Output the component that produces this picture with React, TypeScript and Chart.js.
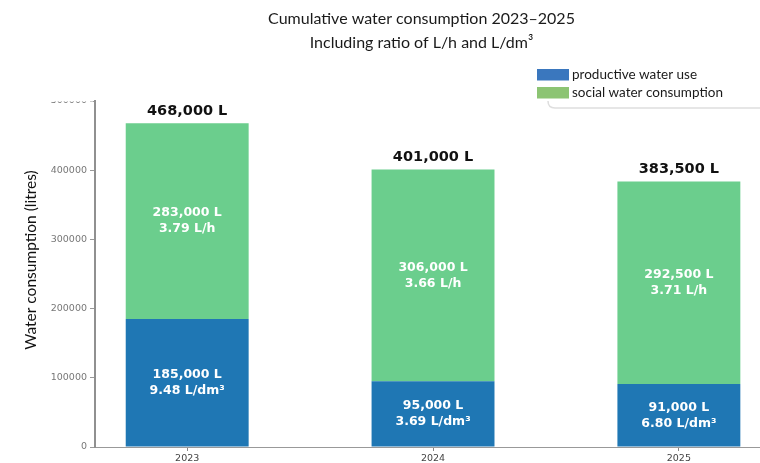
import React, { useEffect, useRef } from "react";
import { Chart, registerables } from "chart.js";

Chart.register(...registerables);

const categories = ["2023", "2024", "2025"];
const productive = [185000, 95000, 91000];
const social = [283000, 306000, 292500];
const productiveRatio = ["9.48 L/dm³", "3.69 L/dm³", "6.80 L/dm³"];
const socialRatio = ["3.79 L/h", "3.66 L/h", "3.71 L/h"];
const yTicks = [0, 100000, 200000, 300000, 400000, 500000];
const seriesNames = ["productive water use", "social water consumption"];
const barColors = ["#1f77b4", "#6bce8d"];
const legendColors = ["#3a77be", "#8cc473"];
const titleLines = ["Cumulative water consumption 2023–2025", "Including ratio of L/h and L/dm³"];
const yTitle = "Water consumption (litres)";

const fmt = (v: number) => v.toLocaleString("en-US") + " L";

const overlayPlugin = {
  id: "overlay",
  afterDatasetsDraw(chart: any) {
    const ctx = chart.ctx;
    const m0 = chart.getDatasetMeta(0);
    const m1 = chart.getDatasetMeta(1);
    ctx.save();
    ctx.textAlign = "center";
    ctx.textBaseline = "middle";
    categories.forEach((_, i) => {
      const b0 = m0.data[i];
      const b1 = m1.data[i];
      ctx.fillStyle = "#ffffff";
      ctx.font = "bold 12.5px 'DejaVu Sans'";
      const c0 = (b0.y + b0.base) / 2;
      ctx.fillText(fmt(productive[i]), b0.x, c0 - 8);
      ctx.fillText(productiveRatio[i], b0.x, c0 + 8);
      const c1 = (b1.y + b1.base) / 2;
      ctx.fillText(fmt(social[i]), b1.x, c1 - 8);
      ctx.fillText(socialRatio[i], b1.x, c1 + 8);
      ctx.fillStyle = "#111111";
      ctx.font = "bold 14.5px 'DejaVu Sans'";
      ctx.fillText(fmt(productive[i] + social[i]), b1.x, b1.y - 12);
    });
    ctx.restore();
  },
  afterDraw(chart: any) {
    const ctx = chart.ctx;
    const ca = chart.chartArea;
    ctx.save();
    // top of the y axis is cut off in the reference
    ctx.fillStyle = "#ffffff";
    ctx.fillRect(0, 0, ca.left - 2, ca.top + 0.5);

    // title
    ctx.fillStyle = "#1a1a1a";
    ctx.textAlign = "center";
    ctx.textBaseline = "middle";
    ctx.font = "16px Lato";
    ctx.fillText(titleLines[0], 421.5, 18.5);
    ctx.fillText(titleLines[1], 421.5, 43);

    // y title
    ctx.save();
    ctx.translate(31, 260);
    ctx.rotate(-Math.PI / 2);
    ctx.font = "15.5px Lato";
    ctx.fillStyle = "#111111";
    ctx.fillText(yTitle, 0, 0);
    ctx.restore();

    // legend frame (partially visible)
    ctx.strokeStyle = "#dedede";
    ctx.lineWidth = 1.5;
    ctx.beginPath();
    ctx.moveTo(548, 101);
    ctx.quadraticCurveTo(548, 108, 555, 108);
    ctx.lineTo(760, 108);
    ctx.stroke();

    // legend
    ctx.textAlign = "left";
    ctx.font = "13.5px Lato";
    seriesNames.forEach((name, i) => {
      const y = 69 + i * 18;
      ctx.fillStyle = legendColors[i];
      ctx.fillRect(537, y, 32, 11.5);
      ctx.fillStyle = "#1a1a1a";
      ctx.fillText(name, 572, y + 5.5);
    });
    ctx.restore();
  },
};

export default function App() {
  const ref = useRef<HTMLCanvasElement | null>(null);
  useEffect(() => {
    if (!ref.current) return;
    const chart = new Chart(ref.current, {
      type: "bar",
      data: {
        datasets: [
          {
            label: seriesNames[0],
            data: productive.map((v, i) => ({ x: i, y: v })),
            backgroundColor: barColors[0],
            barPercentage: 0.5,
            categoryPercentage: 1,
          },
          {
            label: seriesNames[1],
            data: social.map((v, i) => ({ x: i, y: v })),
            backgroundColor: barColors[1],
            barPercentage: 0.5,
            categoryPercentage: 1,
          },
        ],
      },
      options: {
        responsive: false,
        animation: false,
        layout: { padding: { top: 101, right: 0, left: 0, bottom: 0 } },
        plugins: {
          legend: { display: false },
          title: { display: false },
          tooltip: { enabled: false },
        },
        scales: {
          x: {
            type: "linear",
            stacked: true,
            offset: false,
            min: -0.375,
            max: 2.33,
            afterBuildTicks: (s: any) => {
              s.ticks = categories.map((_, i) => ({ value: i }));
            },
            afterFit: (s: any) => {
              s.height = 16;
            },
            ticks: {
              callback: (v: any) => categories[v] ?? "",
              font: { family: "'DejaVu Sans'", size: 9.5 },
              color: "#444444",
              padding: 2,
              maxRotation: 0,
            },
            grid: { offset: false, drawOnChartArea: false, tickLength: 4, color: "#888888" },
            border: { display: true, color: "#999999", width: 1 },
          },
          y: {
            stacked: true,
            min: 0,
            max: 500000,
            afterBuildTicks: (s: any) => {
              s.ticks = yTicks.map((v) => ({ value: v }));
            },
            afterFit: (s: any) => {
              s.width = 95;
            },
            ticks: {
              callback: (v: any) => String(v),
              font: { family: "'DejaVu Sans'", size: 9.5 },
              color: "#777777",
              padding: 3,
            },
            grid: { drawOnChartArea: false, tickLength: 5, color: "#999999" },
            border: { display: true, color: "#909090", width: 2 },
          },
        },
      },
      plugins: [overlayPlugin],
    } as any);
    return () => chart.destroy();
  }, []);
  return (
    <div style={{ position: "fixed", left: 0, top: 0, width: 760, height: 463, background: "#fff" }}>
      <canvas ref={ref} width={760} height={463} style={{ display: "block", width: 760, height: 463 }} />
    </div>
  );
}
